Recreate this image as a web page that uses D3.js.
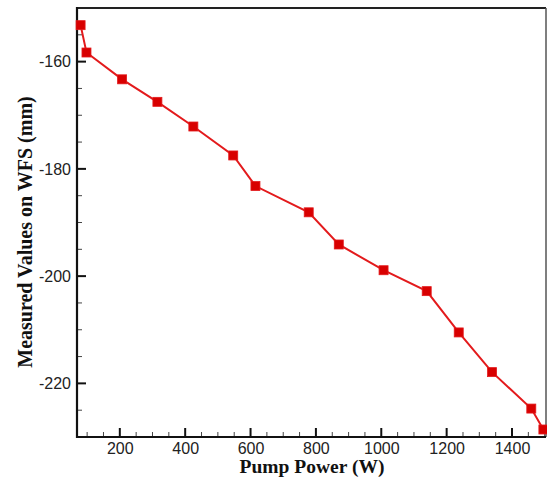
<!DOCTYPE html>
<html>
<head>
<meta charset="utf-8">
<script src="https://cdn.jsdelivr.net/npm/d3@7"></script>
<style>
  html, body { margin: 0; padding: 0; background: #fff; }
  svg { display: block; }
</style>
</head>
<body>
<script>
// ---- data ----
const pumpPower = [80, 98, 207, 315, 425, 547, 615, 778, 870, 1007, 1139, 1237, 1339, 1459, 1496];
const wfsValues = [-153.2, -158.3, -163.3, -167.5, -172.1, -177.5, -183.2, -188.1, -194.1, -198.9, -202.8, -210.5, -217.9, -224.7, -228.6];
const xTickValues = [200, 400, 600, 800, 1000, 1200, 1400];
const yTickValues = [-160, -180, -200, -220];
const xTitle = "Pump Power (W)";
const yTitle = "Measured Values on WFS (mm)";

(function () {
const W = 547, H = 479;
const pL = 77, pR = 546, pT = 8, pB = 437;

const svg = d3.select("body").append("svg").attr("width", W).attr("height", H);

const x = d3.scaleLinear().domain([69, 1504]).range([pL, pR]);
const y = d3.scaleLinear().domain([-230, -150]).range([pB, pT]);
const fmt = d => String(d);

// minor ticks
const xMinor = d3.range(100, 1501, 50).filter(v => !xTickValues.includes(v) && x(v) > pL + 1);
const yMinor = d3.range(-225, -150, 5).filter(v => !yTickValues.includes(v));

// x axis (ticks inward)
const xAxis = svg.append("g").attr("transform", `translate(0,${pB})`);
xAxis.call(d3.axisBottom(x).tickValues(xTickValues).tickSize(0).tickPadding(6).tickFormat(fmt));
xAxis.select(".domain").remove();
xAxis.selectAll("text")
  .attr("font-family", "Liberation Sans, Arial, sans-serif")
  .attr("font-size", 16).attr("fill", "#222");
svg.append("g").selectAll("line").data(xTickValues).join("line")
  .attr("x1", d => x(d)).attr("x2", d => x(d))
  .attr("y1", pB).attr("y2", pB - 9)
  .attr("stroke", "#111").attr("stroke-width", 2);
svg.append("g").selectAll("line").data(xMinor).join("line")
  .attr("x1", d => x(d)).attr("x2", d => x(d))
  .attr("y1", pB).attr("y2", pB - 5)
  .attr("stroke", "#444").attr("stroke-width", 1);

// y axis
const yAxis = svg.append("g").attr("transform", `translate(${pL},0)`);
yAxis.call(d3.axisLeft(y).tickValues(yTickValues).tickSize(0).tickPadding(6).tickFormat(fmt));
yAxis.select(".domain").remove();
yAxis.selectAll("text")
  .attr("font-family", "Liberation Sans, Arial, sans-serif")
  .attr("font-size", 16).attr("fill", "#222");
svg.append("g").selectAll("line").data(yTickValues).join("line")
  .attr("x1", pL).attr("x2", pL + 9)
  .attr("y1", d => y(d)).attr("y2", d => y(d))
  .attr("stroke", "#111").attr("stroke-width", 2);
svg.append("g").selectAll("line").data(yMinor).join("line")
  .attr("x1", pL).attr("x2", pL + 5)
  .attr("y1", d => y(d)).attr("y2", d => y(d))
  .attr("stroke", "#444").attr("stroke-width", 1);

// frame
svg.append("line").attr("x1", pL).attr("x2", pR).attr("y1", pT).attr("y2", pT)
  .attr("stroke", "#222").attr("stroke-width", 2);
svg.append("line").attr("x1", pR).attr("x2", pR).attr("y1", pT).attr("y2", pB)
  .attr("stroke", "#555").attr("stroke-width", 1.5);
svg.append("line").attr("x1", pL).attr("x2", pL).attr("y1", pT - 1).attr("y2", pB + 1)
  .attr("stroke", "#111").attr("stroke-width", 2.2);
svg.append("line").attr("x1", pL - 1).attr("x2", pR).attr("y1", pB).attr("y2", pB)
  .attr("stroke", "#111").attr("stroke-width", 2.2);

// data line
const pts = pumpPower.map((p, i) => [p, wfsValues[i]]);
svg.append("path").datum(pts)
  .attr("fill", "none").attr("stroke", "#e31a1c").attr("stroke-width", 2)
  .attr("d", d3.line().x(d => x(d[0])).y(d => y(d[1])));

// markers
const ms = 9;
svg.append("g").selectAll("rect").data(pts).join("rect")
  .attr("x", d => x(d[0]) - ms / 2).attr("y", d => y(d[1]) - ms / 2)
  .attr("width", ms).attr("height", ms)
  .attr("fill", "#d80000").attr("stroke", "#e31a1c").attr("stroke-width", 0.8);

// titles
svg.append("text")
  .attr("x", 312).attr("y", 473)
  .attr("text-anchor", "middle")
  .attr("font-family", "Liberation Serif, Times New Roman, serif")
  .attr("font-weight", "bold").attr("font-size", 19.5).attr("fill", "#111")
  .text(xTitle);
svg.append("text")
  .attr("transform", `translate(32,232) rotate(-90)`)
  .attr("text-anchor", "middle")
  .attr("font-family", "Liberation Serif, Times New Roman, serif")
  .attr("font-weight", "bold").attr("font-size", 20).attr("fill", "#111")
  .text(yTitle);
})();
</script>
</body>
</html>
